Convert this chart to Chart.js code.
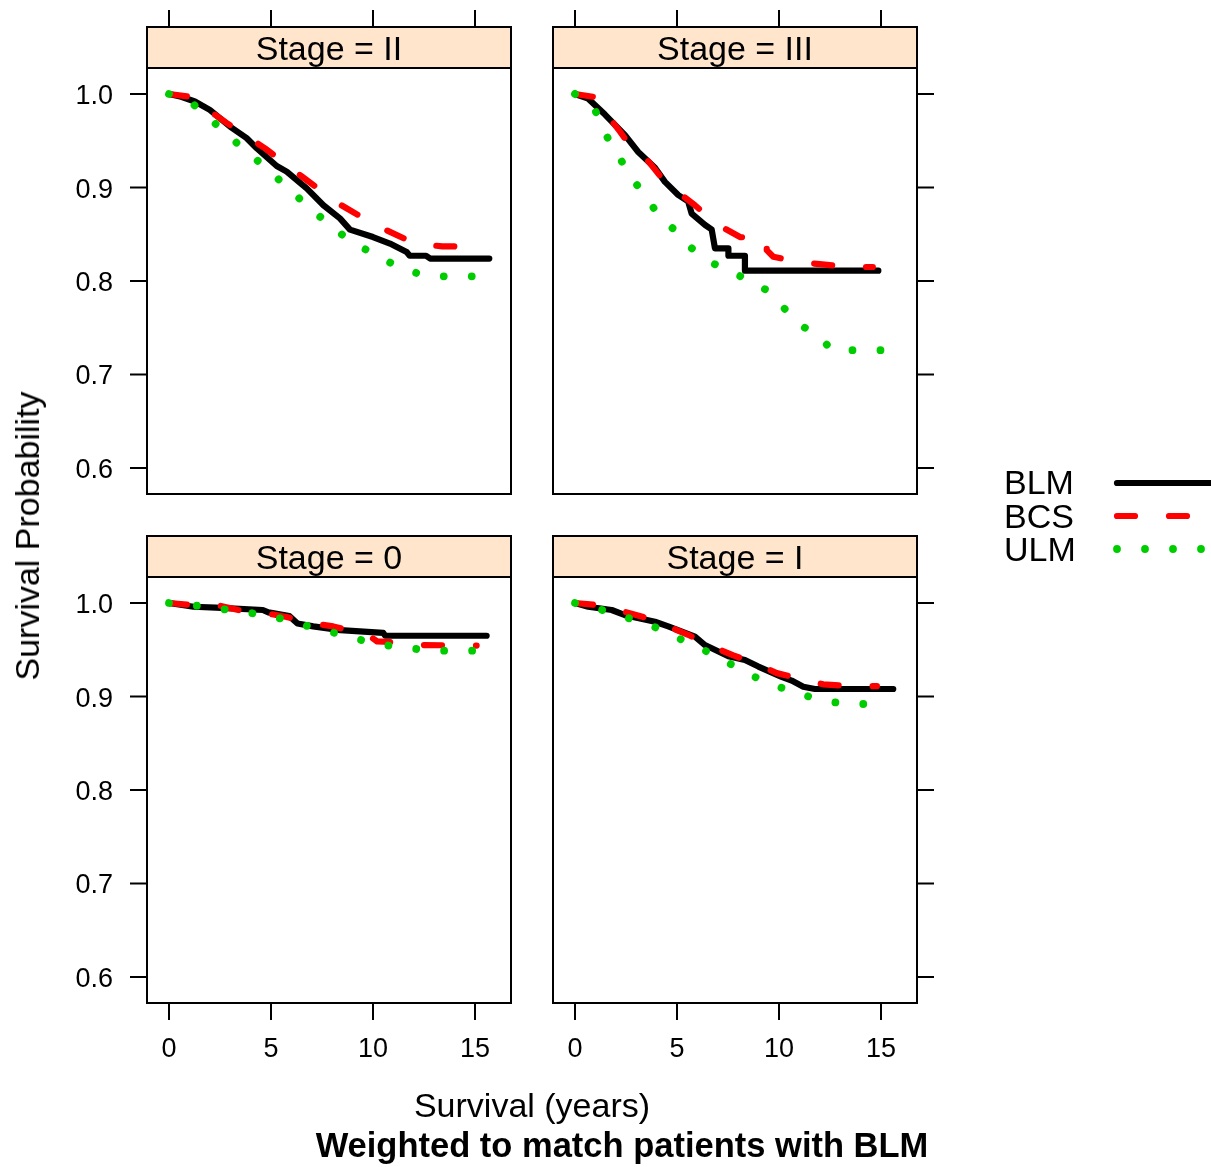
<!DOCTYPE html>
<html>
<head>
<meta charset="utf-8">
<script src="https://cdn.jsdelivr.net/npm/chart.js@4.4.0/dist/chart.umd.min.js"></script>
<style>
  html, body { margin:0; padding:0; background:#fff; }
  #wrap { position:relative; width:1211px; height:1167px; overflow:hidden; font-family:"Liberation Sans", Arial, Helvetica, sans-serif; color:#000; }
  canvas { position:absolute; left:0; top:0; }
  .t { position:absolute; white-space:nowrap; font-size:34px; line-height:34px; }
  .c { transform:translateX(-50%); }
</style>
</head>
<body>
<div id="wrap">
  <canvas id="c0" width="1211" height="1167"></canvas>
  <canvas id="c1" width="1211" height="1167"></canvas>
  <canvas id="c2" width="1211" height="1167"></canvas>
  <canvas id="c3" width="1211" height="1167"></canvas>
  <div class="t c" style="left:329px;top:31px;">Stage = II</div>
  <div class="t c" style="left:735px;top:31px;">Stage = III</div>
  <div class="t c" style="left:329px;top:540px;">Stage = 0</div>
  <div class="t c" style="left:735px;top:540px;">Stage = I</div>
  <div class="t c" style="left:532px;top:1088px;">Survival (years)</div>
  <div class="t c" style="left:622px;top:1128px;font-weight:bold;font-size:34.5px;">Weighted to match patients with BLM</div>
  <div class="t" style="left:27px;top:536px;transform:translate(-50%,-50%) rotate(-90deg);">Survival Probability</div>
  <div class="t" style="left:1004px;top:465px;">BLM</div>
  <div class="t" style="left:1004px;top:499px;">BCS</div>
  <div class="t" style="left:1004px;top:532px;">ULM</div>
</div>
<script>
// ---------- data ----------
const seriesNames = ["BLM", "BCS", "ULM"];
const xTickValues = [0, 5, 10, 15];
const xTickLabels = ["0", "5", "10", "15"];
const yTickValues = [1.0, 0.9, 0.8, 0.7, 0.6];
const yTickLabels = ["1.0", "0.9", "0.8", "0.7", "0.6"];
const stageLabels = ["Stage = II", "Stage = III", "Stage = 0", "Stage = I"];

// Stage = II
const stageII_BLM_t = [0, 0.6, 1.27, 2.0, 3.0, 3.8, 4.3, 5.28, 5.77, 6.75, 7.57, 8.38, 8.87, 10.0, 10.83, 11.65, 11.8, 12.6, 12.8, 15.7];
const stageII_BLM_s = [1.0, 0.997, 0.992, 0.983, 0.965, 0.953, 0.942, 0.923, 0.917, 0.899, 0.881, 0.867, 0.855, 0.847, 0.840, 0.831, 0.827, 0.827, 0.824, 0.824];
const stageII_BCS_t = [0, 1.03, 2.83, 4.7, 6.5, 8.3, 10.1, 12.06, 13.4, 14.6];
const stageII_BCS_s = [1.0, 0.997, 0.969, 0.942, 0.912, 0.883, 0.860, 0.840, 0.837, 0.837];
const stageII_ULM_t = [0, 1.24, 2.24, 3.2, 4.17, 5.16, 6.1, 7.06, 8.0, 8.97, 10.08, 11.14, 12.34, 13.0, 15.3];
const stageII_ULM_s = [1.0, 0.988, 0.969, 0.950, 0.932, 0.913, 0.894, 0.875, 0.858, 0.841, 0.829, 0.816, 0.807, 0.805, 0.805];

// Stage = III
const stageIII_BLM_t = [0, 0.65, 1.47, 2.45, 3.1, 3.92, 4.41, 5.06, 5.55, 5.72, 6.37, 6.7, 6.86, 7.52, 7.52, 8.33, 8.33, 14.87];
const stageIII_BLM_s = [1.0, 0.995, 0.978, 0.956, 0.938, 0.921, 0.906, 0.892, 0.885, 0.872, 0.860, 0.855, 0.835, 0.835, 0.827, 0.827, 0.811, 0.811];
const stageIII_BCS_t = [0, 0.9, 1.7, 2.2, 2.94, 3.6, 4.33, 4.98, 5.88, 6.46, 7.35, 8.09, 9.4, 9.4, 9.72, 11.03, 12.0, 13.4, 14.6];
const stageIII_BCS_s = [1.0, 0.997, 0.974, 0.960, 0.937, 0.928, 0.908, 0.896, 0.881, 0.870, 0.856, 0.847, 0.844, 0.833, 0.826, 0.820, 0.818, 0.815, 0.815];
const stageIII_ULM_t = [0, 0.98, 1.47, 2.12, 2.73, 3.43, 4.12, 4.95, 5.72, 6.57, 7.6, 8.63, 9.56, 10.25, 10.95, 11.9, 12.6, 15.5];
const stageIII_ULM_s = [1.0, 0.983, 0.958, 0.934, 0.912, 0.891, 0.870, 0.853, 0.835, 0.821, 0.810, 0.800, 0.788, 0.771, 0.754, 0.742, 0.726, 0.726];

// Stage = 0
const stage0_BLM_t = [0, 1.2, 2.3, 4.6, 4.87, 5.9, 6.3, 7.07, 8.4, 10.5, 10.6, 15.57];
const stage0_BLM_s = [1.0, 0.996, 0.995, 0.9925, 0.990, 0.986, 0.978, 0.975, 0.971, 0.968, 0.965, 0.965];
const stage0_BCS_t = [0, 1.03, 2.5, 3.4, 4.8, 5.77, 7.07, 8.05, 9.28, 10.0, 10.2, 11.5, 12.47, 15.08];
const stage0_BCS_s = [1.0, 0.998, 0.997, 0.9925, 0.989, 0.985, 0.978, 0.975, 0.968, 0.962, 0.959, 0.9575, 0.955, 0.9545];
const stage0_ULM_t = [0, 1.44, 2.79, 4.1, 5.36, 6.58, 7.78, 8.98, 10.2, 11.5, 12.8, 15.6];
const stage0_ULM_s = [1.0, 0.997, 0.993, 0.989, 0.984, 0.9765, 0.970, 0.963, 0.956, 0.9525, 0.949, 0.949];

// Stage = I
const stageI_BLM_t = [0, 0.65, 1.8, 2.45, 3.92, 4.57, 5.88, 6.37, 7.52, 8.33, 8.99, 10.13, 10.62, 11.19, 11.76, 15.6];
const stageI_BLM_s = [1.0, 0.996, 0.9925, 0.987, 0.980, 0.975, 0.964, 0.955, 0.943, 0.939, 0.932, 0.921, 0.917, 0.9105, 0.908, 0.908];
const stageI_BCS_t = [0, 0.98, 2.37, 3.35, 4.57, 5.55, 6.78, 7.76, 8.99, 9.89, 11.19, 12.17, 13.56, 14.8];
const stageI_BCS_s = [1.0, 0.998, 0.991, 0.985, 0.975, 0.966, 0.953, 0.944, 0.934, 0.925, 0.918, 0.913, 0.911, 0.911];
const stageI_ULM_t = [0, 1.34, 2.61, 3.84, 5.01, 6.16, 7.27, 8.38, 9.5, 10.7, 11.9, 13.2, 14.7];
const stageI_ULM_s = [1.0, 0.9925, 0.984, 0.975, 0.963, 0.9515, 0.939, 0.9255, 0.914, 0.905, 0.897, 0.892, 0.892];

// ---------- layout / style ----------
const W = 1211, H = 1167;
const X_MIN = -1.0784, X_MAX = 16.7647;
const Y_MIN = 0.57219, Y_MAX = 1.02781;
const FONT = '"Liberation Sans", Arial, Helvetica, sans-serif';
const TICK = 17, STRIP_H = 41;
const styles = {
  BLM: { color: '#000000', width: 6.2, dash: [], order: 3 },
  BCS: { color: '#FF0000', width: 6.2, dash: [18, 34], order: 2 },
  ULM: { color: '#00CD00', width: 7.8, dash: [0.001, 28], order: 1 }
};

const panels = [
  { id: 'c0', box: [147, 68, 511, 494], yLabels: true,  ySide: 'left',  xSide: 'top',    xLabels: false,
    series: [[stageII_BLM_t, stageII_BLM_s], [stageII_BCS_t, stageII_BCS_s], [stageII_ULM_t, stageII_ULM_s]] },
  { id: 'c1', box: [553, 68, 917, 494], yLabels: false, ySide: 'right', xSide: 'top',    xLabels: false,
    series: [[stageIII_BLM_t, stageIII_BLM_s], [stageIII_BCS_t, stageIII_BCS_s], [stageIII_ULM_t, stageIII_ULM_s]] },
  { id: 'c2', box: [147, 577, 511, 1003], yLabels: true,  ySide: 'left',  xSide: 'bottom', xLabels: true,
    series: [[stage0_BLM_t, stage0_BLM_s], [stage0_BCS_t, stage0_BCS_s], [stage0_ULM_t, stage0_ULM_s]] },
  { id: 'c3', box: [553, 577, 917, 1003], yLabels: false, ySide: 'right', xSide: 'bottom', xLabels: true,
    series: [[stageI_BLM_t, stageI_BLM_s], [stageI_BCS_t, stageI_BCS_s], [stageI_ULM_t, stageI_ULM_s]], legend: true }
];

function latticePlugin(p) {
  return {
    id: 'lattice_' + p.id,
    beforeDatasetsDraw(chart) {
      const { ctx, chartArea: a } = chart;
      ctx.save();
      ctx.fillStyle = '#FFE5CC';
      ctx.fillRect(a.left, a.top - STRIP_H, a.right - a.left, STRIP_H);
      ctx.restore();
    },
    afterDraw(chart) {
      const { ctx, chartArea: a, scales } = chart;
      const xs = scales.x, ys = scales.y;
      ctx.save();
      ctx.strokeStyle = '#000';
      ctx.lineWidth = 2;
      ctx.lineCap = 'butt';
      ctx.strokeRect(a.left, a.top - STRIP_H, a.right - a.left, STRIP_H);
      ctx.strokeRect(a.left, a.top, a.right - a.left, a.bottom - a.top);
      ctx.font = '27px ' + FONT;
      ctx.fillStyle = '#000';
      yTickValues.forEach((v, i) => {
        const py = ys.getPixelForValue(v);
        ctx.beginPath();
        if (p.ySide === 'left') { ctx.moveTo(a.left, py); ctx.lineTo(a.left - TICK, py); }
        else { ctx.moveTo(a.right, py); ctx.lineTo(a.right + TICK, py); }
        ctx.stroke();
        if (p.yLabels) {
          ctx.textAlign = 'right';
          ctx.textBaseline = 'alphabetic';
          ctx.fillText(yTickLabels[i], a.left - 2 * TICK, py + 10);
        }
      });
      xTickValues.forEach((v, i) => {
        const px = xs.getPixelForValue(v);
        ctx.beginPath();
        if (p.xSide === 'top') { ctx.moveTo(px, a.top - STRIP_H); ctx.lineTo(px, a.top - STRIP_H - TICK); }
        else { ctx.moveTo(px, a.bottom); ctx.lineTo(px, a.bottom + TICK); }
        ctx.stroke();
        if (p.xLabels) {
          ctx.textAlign = 'center';
          ctx.textBaseline = 'alphabetic';
          ctx.fillText(xTickLabels[i], px, a.bottom + 54);
        }
      });
      if (p.legend) {
        const ly = [483, 516, 549];
        seriesNames.forEach((n, i) => {
          const st = styles[n];
          ctx.beginPath();
          ctx.strokeStyle = st.color;
          ctx.lineWidth = st.width;
          ctx.lineCap = 'round';
          ctx.setLineDash(st.dash);
          ctx.moveTo(1117, ly[i]);
          ctx.lineTo(1230, ly[i]);
          ctx.stroke();
        });
        ctx.setLineDash([]);
      }
      ctx.restore();
    }
  };
}

panels.forEach(p => {
  const [l, t, r, b] = p.box;
  const datasets = seriesNames.map((n, i) => {
    const [ts, ss] = p.series[i];
    const st = styles[n];
    return {
      label: n,
      data: ts.map((x, k) => ({ x: x, y: ss[k] })),
      borderColor: st.color,
      borderWidth: st.width,
      borderDash: st.dash,
      borderCapStyle: 'round',
      borderJoinStyle: 'round',
      pointRadius: 0,
      fill: false,
      tension: 0,
      order: st.order
    };
  });
  new Chart(document.getElementById(p.id), {
    type: 'line',
    data: { datasets },
    options: {
      responsive: false,
      animation: false,
      devicePixelRatio: 1,
      layout: { padding: { left: l, top: t, right: W - r, bottom: H - b } },
      scales: {
        x: { type: 'linear', display: false, min: X_MIN, max: X_MAX },
        y: { type: 'linear', display: false, min: Y_MIN, max: Y_MAX }
      },
      plugins: { legend: { display: false }, tooltip: { enabled: false } },
      events: []
    },
    plugins: [latticePlugin(p)]
  });
});
</script>
</body>
</html>
